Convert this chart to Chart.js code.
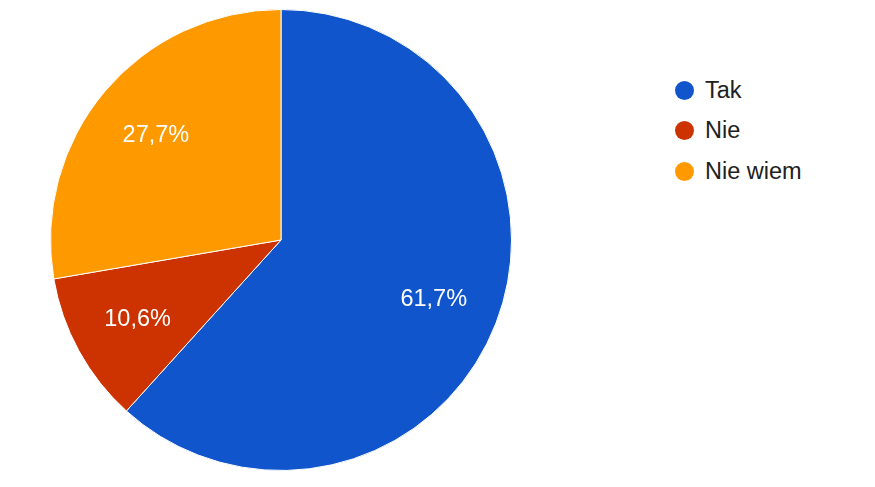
<!DOCTYPE html>
<html>
<head>
<meta charset="utf-8">
<script src="https://cdn.jsdelivr.net/npm/chart.js@4"></script>
<style>
    body { margin: 0; background: #fff; width: 875px; height: 487px; position: relative; overflow: hidden; font-family: "Liberation Sans", Arial, sans-serif; }
    #pie-wrap { position: absolute; left: 49px; top: 8px; width: 464px; height: 464px; }
    #legend { position: absolute; left: 675px; top: 70px; }
    .item { display: flex; align-items: center; height: 40.5px; font-size: 23.5px; color: #212121; }
    .dot { width: 19px; height: 19px; border-radius: 50%; margin-right: 11px; }
</style>
</head>
<body>
<div id="pie-wrap"><canvas id="pie-chart"></canvas></div>
<div id="legend"></div>
<script>
// Data
const categories = ["Tak", "Nie", "Nie wiem"];
const values = [61.7, 10.6, 27.7];
const colors = ["#1155cc", "#cc3300", "#ff9900"];

// Legend
function buildLegend() {
    const legend = document.getElementById("legend");
    categories.forEach((name, i) => {
        legend.innerHTML += `<div class="item"><span class="dot" style="background:${colors[i]}"></span>${name}</div>`;
    });
}

// slice labels, drawn at ~0.71 of the radius
const sliceLabels = {
    id: "sliceLabels",
    afterDatasetsDraw(chart) {
        const ctx = chart.ctx;
        const meta = chart.getDatasetMeta(0);
        ctx.save();
        ctx.fillStyle = "#fff";
        ctx.font = '23.5px "Liberation Sans", Arial, sans-serif';
        ctx.textAlign = "center";
        ctx.textBaseline = "middle";
        meta.data.forEach((arc, i) => {
            const mid = (arc.startAngle + arc.endAngle) / 2;
            const r = arc.outerRadius * 0.71;
            const x = arc.x + Math.cos(mid) * r;
            const y = arc.y + Math.sin(mid) * r;
            ctx.fillText(values[i].toFixed(1).replace(".", ",") + "%", x, y + 1);
        });
        ctx.restore();
    }
};

function renderChart() {
    const ctx = document.getElementById("pie-chart").getContext("2d");
    new Chart(ctx, {
        type: "pie",
        data: {
            labels: categories,
            datasets: [{
                data: values,
                backgroundColor: colors,
                borderColor: "#fff",
                borderWidth: 1,
            }]
        },
        options: {
            responsive: true,
            maintainAspectRatio: false,
            animation: false,
            layout: { padding: 1 },
            plugins: {
                legend: { display: false },
                tooltip: { enabled: false },
            }
        },
        plugins: [sliceLabels]
    });
}

document.addEventListener("DOMContentLoaded", () => {
    buildLegend();
    renderChart();
});
</script>
</body>
</html>
